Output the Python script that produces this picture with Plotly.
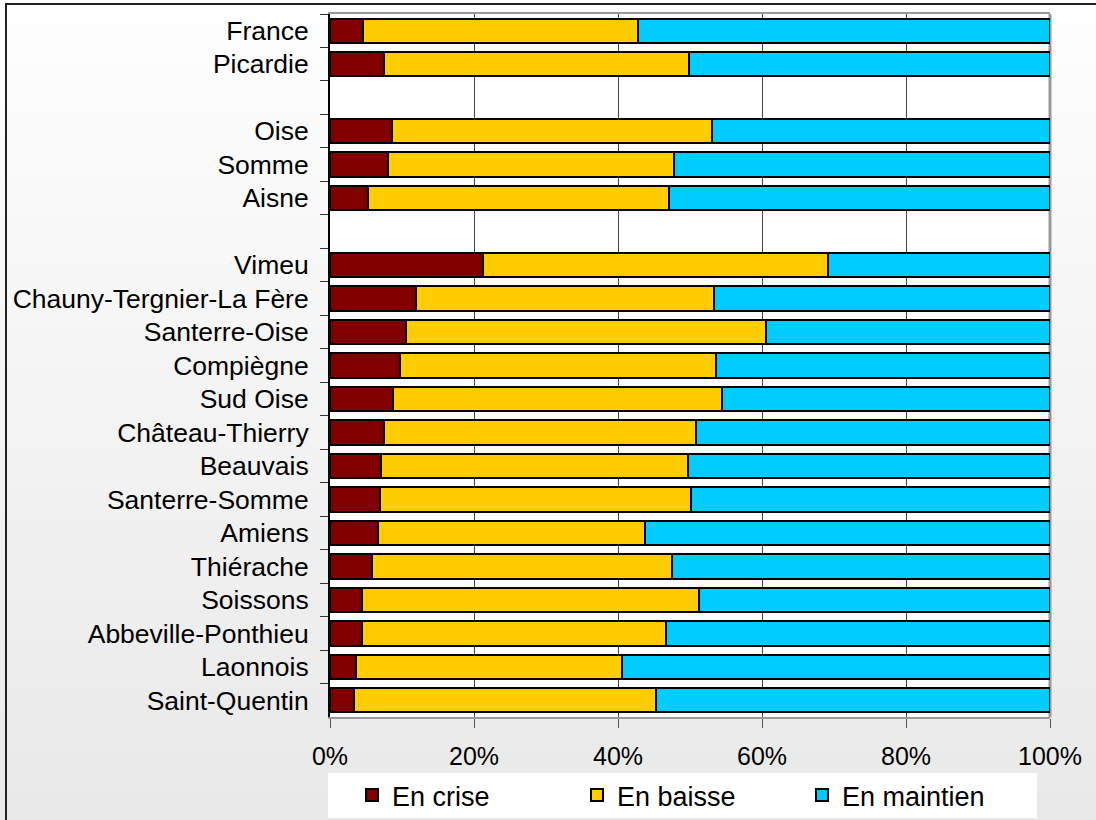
import plotly.graph_objects as go

categories = ["France", "Picardie", " ", "Oise", "Somme", "Aisne", "  ",
              "Vimeu", "Chauny-Tergnier-La Fère", "Santerre-Oise", "Compiègne",
              "Sud Oise", "Château-Thierry", "Beauvais", "Santerre-Somme",
              "Amiens", "Thiérache", "Soissons", "Abbeville-Ponthieu",
              "Laonnois", "Saint-Quentin"]

en_crise = [4.6, 7.5, None, 8.6, 8.0, 5.3, None,
            21.2, 11.9, 10.6, 9.7, 8.7, 7.5, 7.1, 7.0, 6.7, 5.9, 4.4, 4.4, 3.6, 3.4]
en_baisse = [38.2, 42.4, None, 44.4, 39.8, 41.8, None,
             47.9, 41.5, 49.9, 43.9, 45.7, 43.3, 42.6, 43.1, 37.1, 41.6, 46.9, 42.2, 36.9, 41.9]
en_maintien = [57.2, 50.1, None, 47.0, 52.2, 52.9, None,
               30.9, 46.6, 39.5, 46.4, 45.6, 49.2, 50.3, 49.9, 56.2, 52.5, 48.7, 53.4, 59.5, 54.7]

x_ticks = [0, 20, 40, 60, 80, 100]
x_ticklabels = ["0%", "20%", "40%", "60%", "80%", "100%"]

series = [("En crise", en_crise, "#800000"),
          ("En baisse", en_baisse, "#FFCC00"),
          ("En maintien", en_maintien, "#00CCFF")]

FONT = "Liberation Sans, Arial, sans-serif"

fig = go.Figure()
for name, vals, color in series:
    fig.add_trace(go.Bar(
        y=categories, x=vals, name=name, orientation="h",
        marker=dict(color=color, line=dict(color="#000000", width=2)),
    ))

W, H = 1096, 820
L, R, T, B = 330, 46, 14, 103
PW, PH = W - L - R, H - T - B

def px_x(p):
    return (p - L) / PW

def px_y(p):
    return (H - B - p) / PH

shapes = []
n = 60
for i in range(n):
    t = i / (n - 1)
    c = int(round(254 - (254 - 233) * t))
    shapes.append(dict(type="rect", xref="paper", yref="paper",
                       x0=px_x(-5), x1=px_x(W + 5),
                       y0=px_y((i + 1) * H / n + 1), y1=px_y(i * H / n - 1),
                       fillcolor=f"rgb({c},{c},{c})", line=dict(width=0), layer="below"))
# plot area white
shapes.append(dict(type="rect", xref="paper", yref="paper", x0=0, x1=1, y0=0, y1=1,
                   fillcolor="white", line=dict(width=0), layer="below"))
# legend box
shapes.append(dict(type="rect", xref="paper", yref="paper",
                   x0=px_x(328), x1=px_x(1037), y0=px_y(818), y1=px_y(773),
                   fillcolor="white", line=dict(width=0), layer="below"))
# outer frame
shapes.append(dict(type="rect", xref="paper", yref="paper",
                   x0=px_x(6), x1=px_x(W + 20), y0=px_y(H + 20), y1=px_y(4),
                   fillcolor="rgba(0,0,0,0)", line=dict(color="#222222", width=2),
                   layer="above"))
# right border of plot
shapes.append(dict(type="line", xref="paper", yref="paper", x0=1, x1=1, y0=0, y1=1,
                   line=dict(color="#999999", width=3), layer="below"))

fig.update_layout(
    width=W, height=H,
    margin=dict(l=L, r=R, t=T, b=B, pad=0, autoexpand=False),
    barmode="stack", bargap=0.27,
    paper_bgcolor="#f4f4f4", plot_bgcolor="white",
    font=dict(family=FONT, size=24, color="#000000"),
    shapes=shapes,
    xaxis=dict(range=[0, 100], tickvals=x_ticks, ticktext=x_ticklabels,
               showgrid=True, gridcolor="#444444", gridwidth=1,
               showline=True, linecolor="#999999", linewidth=2, mirror=True,
               ticks="outside", ticklen=9, tickcolor="#555555", tickwidth=1,
               ticklabelstandoff=7, zeroline=False, automargin=False,
               tickfont=dict(family=FONT, size=25, color="#000000")),
    yaxis=dict(categoryorder="array", categoryarray=categories, autorange="reversed",
               type="category", showline=True, linecolor="#000000", linewidth=2,
               ticks="outside", tickson="boundaries", ticklen=8, tickcolor="#333333",
               tickwidth=1, showgrid=False, ticklabelstandoff=14, automargin=False,
               tickfont=dict(family=FONT, size=26.5, color="#000000")),
    legend=dict(orientation="h", xref="paper", x=px_x(352), xanchor="left",
                yref="container", y=1 - 771 / H, yanchor="top",
                bgcolor="rgba(0,0,0,0)", borderwidth=0, entrywidth=180,
                entrywidthmode="pixels",
                font=dict(family=FONT, size=27, color="#000000"),
                traceorder="normal", itemclick=False),
    showlegend=True,
)

fig.write_html("out.html")
